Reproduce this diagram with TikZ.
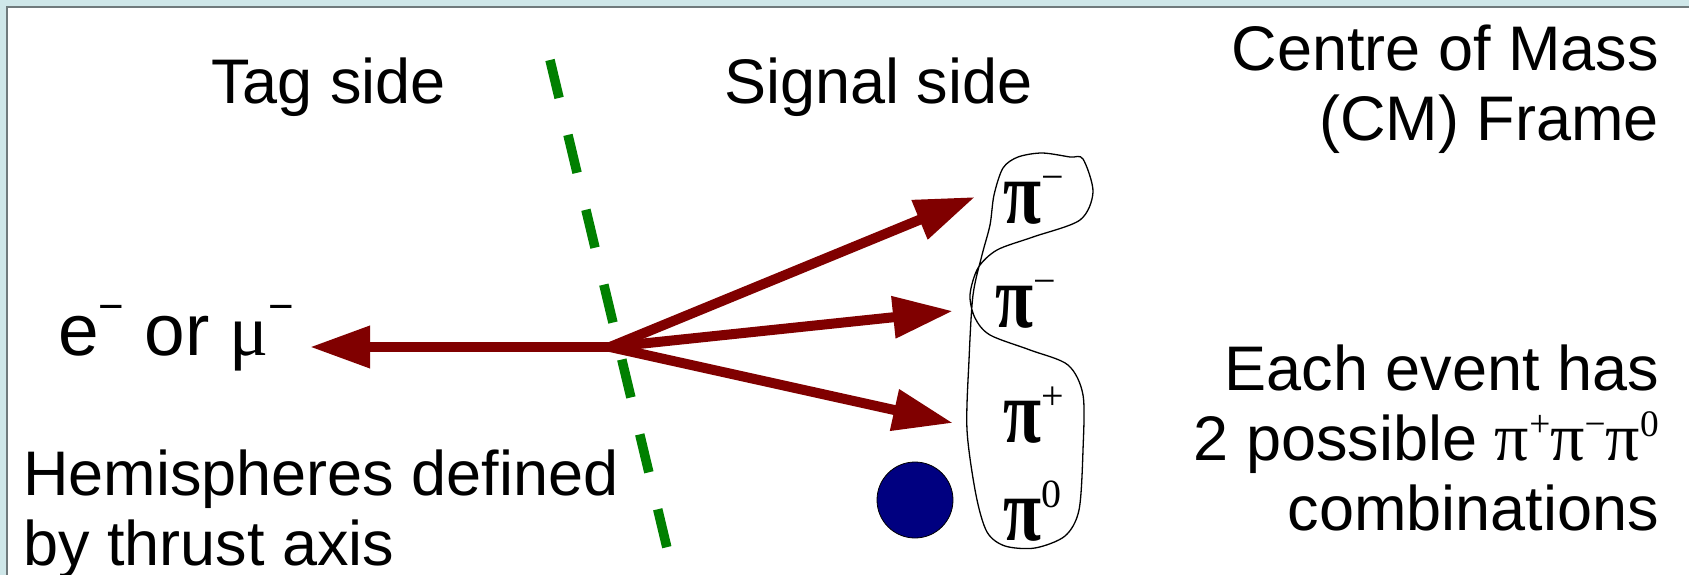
\documentclass[tikz,border=0pt]{standalone}
\usepackage{fontspec}
\setmainfont{Liberation Sans}
\newfontfamily\grk{Liberation Serif}
\usetikzlibrary{arrows.meta}
\definecolor{bgcyan}{RGB}{207,231,233}
\definecolor{framegray}{RGB}{112,122,124}
\definecolor{arrowred}{RGB}{128,0,0}
\definecolor{axisgreen}{RGB}{0,128,0}
\definecolor{discnavy}{RGB}{0,0,128}
\newcommand\hi[1]{\raisebox{0.46em}{\scalebox{0.6}{#1}}}
\newcommand\smallhi[1]{\raisebox{0.34em}{\scalebox{0.55}{#1}}}
\newcommand\bigpi{\scalebox{0.77}[1]{\bfseries π}}
\newcommand\pisup[1]{\raisebox{33pt}{\fontsize{40}{40}\selectfont\mdseries #1}}
\begin{document}
\begin{tikzpicture}[x=1pt,y=-1pt,
  lbl/.style={inner sep=0pt, font=\fontsize{63}{70}\selectfont},
  pil/.style={inner sep=0pt, anchor=base west, font=\grk\fontsize{90}{90}\selectfont},
  track/.style={draw=arrowred, line width=10pt, -{Triangle[length=60pt,width=40pt]}},
  thrust/.style={draw=axisgreen, line width=9.5pt, dash pattern=on 39pt off 38pt},
  blob/.style={draw=black, line width=1.3pt},
]
\useasboundingbox (0,0) rectangle (1689,575);
\fill[bgcyan] (0,0) rectangle (1689,575);
\draw[framegray, line width=2pt, fill=white] (7,7) rectangle (1700,590);

% labels
\node[lbl, anchor=base west] (tag) at (211,104) {Tag side};
\node[lbl, anchor=base west] (sig) at (724,104) {Signal side};
\node[lbl, anchor=base east] (cm1) at (1659,71) {Centre of Mass};
\node[lbl, anchor=base east] (cm2) at (1659,140) {(CM) Frame};
\node[lbl, anchor=base west, font=\fontsize{73}{80}\selectfont] (lep) at (58,355) {e\hi{−} or {\grk μ}\hi{−}};
\node[lbl, anchor=base west] (hemi1) at (23,495) {Hemispheres defined};
\node[lbl, anchor=base west] (hemi2) at (23,565) {by thrust axis};
\node[lbl, anchor=base east] (ev1) at (1659,390) {Each event has};
\node[lbl, anchor=base east] (ev2) at (1659,460) {2 possible {\grk\fontsize{68}{68}\selectfont π\smallhi{+}π\smallhi{−}π\smallhi{0}}};
\node[lbl, anchor=base east] (ev3) at (1659,530) {combinations};

% thrust axis
\coordinate (ax1) at (550,60);
\coordinate (ax2) at (667,548);
\draw[thrust] (ax1) -- (ax2);

% tracks
\coordinate (o) at (610,347);
\coordinate (tl) at (310,347);
\coordinate (t1) at (975,197);
\coordinate (t2) at (953,311);
\coordinate (t3) at (953,423);
\draw[track] (o) -- (tl);
\draw[track] (o) -- (t1);
\draw[track] (o) -- (t2);
\draw[track] (o) -- (t3);

% neutral pion
\node[circle, fill=discnavy, draw=black, line width=0.8pt, minimum size=76pt, inner sep=0pt] (disc) at (915,500) {};

% pion labels
\node[pil] (pa) at (1003,223) {\bigpi\pisup{−}};
\node[pil] (pb) at (995,327) {\bigpi\pisup{−}};
\node[pil] (pc) at (1003,442) {\bigpi\pisup{+}};
\node[pil] (pd) at (1003,540) {\bigpi\pisup{0}};

% grouping outline
\draw[blob] plot[smooth cycle, tension=0.5] coordinates {(1042,153) (1070,157) (1083,159) (1093,192) (1080,220) (1033,237) (997,250) (978,268) (970,295) (975,318) (990,335) (1030,350) (1068,365) (1083,395) (1083,450) (1079,510) (1065,536) (1035,548) (1005,546) (987,532) (976,495) (967,430) (969,360) (973,295) (982,255) (990,225) (994,195) (1003,168) (1018,157)};
\end{tikzpicture}
\end{document}
